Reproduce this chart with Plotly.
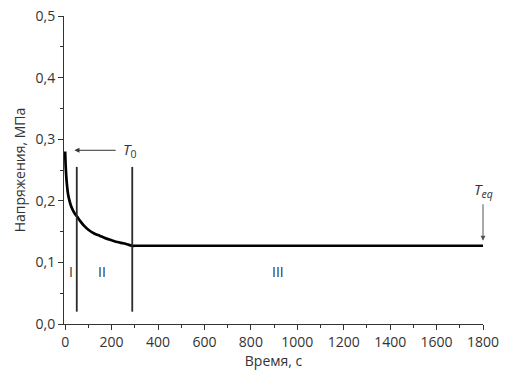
import plotly.graph_objects as go

time_s = [0, 2, 5, 8, 12, 18, 25, 33, 42, 52, 65, 80, 100, 125, 150, 175, 200, 225, 250, 270, 290, 300, 1800]
stress = [0.28, 0.258, 0.238, 0.225, 0.212, 0.201, 0.192, 0.185, 0.179, 0.174, 0.167, 0.16, 0.153, 0.147, 0.143, 0.139, 0.136, 0.133, 0.131, 0.129, 0.127, 0.127, 0.127]

boundary_x = [50, 289]
boundary_y = [0.02, 0.255]

zone_labels = ["I", "II", "III"]
zone_x = [26, 158, 918]
zone_y = 0.085

fig = go.Figure()
fig.add_trace(go.Scatter(x=time_s, y=stress, mode="lines", line_shape="spline",
                         line=dict(color="black", width=2.7, smoothing=0.6), showlegend=False))
for bx in boundary_x:
    fig.add_trace(go.Scatter(x=[bx, bx], y=boundary_y, mode="lines",
                             line=dict(color="#2a2a2a", width=1.8), showlegend=False))

for lab, zx in zip(zone_labels, zone_x):
    fig.add_annotation(x=zx, y=zone_y, text=lab, showarrow=False,
                       font=dict(size=14, color="#333333"))

# T0 label with arrow
fig.add_annotation(x=40, y=0.282, ax=280, ay=0.282, xref="x", yref="y", axref="x", ayref="y",
                   text="<i>T</i><sub>0</sub>", showarrow=True, arrowhead=2, arrowsize=1,
                   arrowwidth=1, arrowcolor="#333333", standoff=0, startstandoff=6,
                   font=dict(size=15, color="#333333"))
# Teq label with arrow
fig.add_annotation(x=1800, y=0.135, ax=1800, ay=0.218, xref="x", yref="y", axref="x", ayref="y",
                   text="<i>T</i><sub><i>eq</i></sub>", showarrow=True, arrowhead=2, arrowsize=1,
                   arrowwidth=1, arrowcolor="#555555", startstandoff=2,
                   font=dict(size=15, color="#333333"))

fig.update_layout(
    width=506, height=376,
    margin=dict(l=64, r=23, t=16, b=52),
    plot_bgcolor="white", paper_bgcolor="white",
    separators=", ",
    font=dict(family="Open Sans", size=14, color="#333333"),
)
fig.update_xaxes(range=[-5, 1800], showgrid=False, zeroline=False, automargin=False,
                 showline=True, linecolor="#333333", linewidth=1,
                 ticks="outside", ticklen=5, tickcolor="#333333", dtick=200, tick0=0,
                 minor=dict(ticks="outside", ticklen=3, dtick=100, tickcolor="#333333"),
                 title=dict(text="Время, с", standoff=0, font=dict(size=14)))
fig.update_yaxes(range=[0, 0.5], showgrid=False, zeroline=False, automargin=False,
                 showline=True, linecolor="#333333", linewidth=1,
                 ticks="outside", ticklen=5, tickcolor="#333333", dtick=0.1, tick0=0,
                 tickformat=".1f",
                 minor=dict(ticks="outside", ticklen=3, dtick=0.05, tickcolor="#333333"),
                 title=dict(text="Напряжения, МПа", standoff=6, font=dict(size=14)))

fig.write_html("out.html", config={"displayModeBar": False},
               post_script="document.body.style.margin='0';document.body.style.padding='0';")
